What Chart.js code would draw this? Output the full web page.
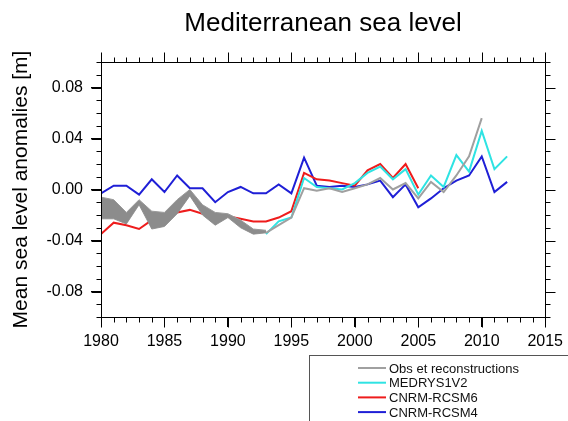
<!DOCTYPE html>
<html>
<head>
<meta charset="utf-8">
<script src="https://cdn.jsdelivr.net/npm/chart.js@4"></script>
<style>
  html, body { margin: 0; padding: 0; background: #fff; }
</style>
</head>
<body>
<canvas id="chart" width="568" height="421"></canvas>
<script>
const years = [1980, 1981, 1982, 1983, 1984, 1985, 1986, 1987, 1988, 1989, 1990,
  1991, 1992, 1993, 1994, 1995, 1996, 1997, 1998, 1999, 2000, 2001, 2002, 2003,
  2004, 2005, 2006, 2007, 2008, 2009, 2010, 2011, 2012];

// reconstructions envelope (1980-1993)
const bandUpper = [-0.006, -0.008, -0.018, -0.008, -0.017, -0.018, -0.008, 0.000, -0.012, -0.018, -0.019, -0.024, -0.031, -0.032];
const bandLower = [-0.023, -0.023, -0.027, -0.012, -0.031, -0.029, -0.019, -0.005, -0.020, -0.028, -0.022, -0.030, -0.035, -0.034];
// observations 1993-2010
const obs = [-0.034, -0.028, -0.022, 0.001, -0.001, 0.001, -0.002, 0.001, 0.004, 0.009, 0.000, 0.005, -0.007, 0.006, -0.002, 0.011, 0.026, 0.056];
// MEDRYS1V2 1993-2012
const medrys = [-0.035, -0.025, -0.022, 0.009, 0.002, 0.001, 0.000, 0.005, 0.013, 0.018, 0.008, 0.016, -0.004, 0.011, 0.002, 0.027, 0.014, 0.046, 0.016, 0.026];
// CNRM-RCSM6 1980-2005
const rcsm6 = [-0.035, -0.026, -0.028, -0.031, -0.024, -0.025, -0.018, -0.016, -0.019, -0.021, -0.021, -0.023, -0.025, -0.025, -0.022, -0.017, 0.013, 0.008, 0.007, 0.005, 0.003, 0.015, 0.020, 0.009, 0.020, 0.001];
// CNRM-RCSM4 1980-2012
const rcsm4 = [-0.003, 0.003, 0.003, -0.004, 0.008, -0.002, 0.011, 0.001, 0.001, -0.010, -0.002, 0.002, -0.003, -0.003, 0.004, -0.003, 0.025, 0.003, 0.002, 0.003, 0.002, 0.004, 0.007, -0.006, 0.004, -0.014, -0.007, 0.001, 0.007, 0.011, 0.026, -0.002, 0.006];

const xTicks = [1980, 1985, 1990, 1995, 2000, 2005, 2010, 2015];
const yTicks = [-0.08, -0.04, 0.00, 0.04, 0.08];

const FONT = "'Liberation Sans', Arial, Helvetica, sans-serif";

function pts(values, startYear) {
  const i0 = years.indexOf(startYear);
  return values.map((v, i) => ({ x: years[i0 + i], y: v }));
}

const line = (label, data, color) => ({
  label, data, borderColor: color, backgroundColor: color,
  borderWidth: 2, pointRadius: 0, tension: 0, fill: false,
});

// frame, minor ticks on every side, and the boxed legend at the bottom
const ncLook = {
  id: "ncLook",
  afterDraw(chart) {
    const { ctx, chartArea: a, scales: { x, y } } = chart;
    const L = Math.round(a.left) + 0.5, R = Math.round(a.right) + 0.5;
    const T = Math.round(a.top) + 0.5, B = Math.round(a.bottom) + 0.5;
    ctx.save();
    ctx.strokeStyle = "#000";
    ctx.lineWidth = 1;
    ctx.beginPath();
    ctx.rect(L, T, R - L, B - T);
    for (let yr = 1980; yr <= 2015; yr++) {
      const px = Math.round(x.getPixelForValue(yr)) + 0.5;
      const len = yr % 5 === 0 ? 10 : 5;
      ctx.moveTo(px, B); ctx.lineTo(px, B + len);
      ctx.moveTo(px, T); ctx.lineTo(px, T - len);
    }
    for (let k = -10; k <= 10; k++) {
      const py = Math.round(y.getPixelForValue(k / 100)) + 0.5;
      const len = k % 4 === 0 ? 10 : 5;
      ctx.moveTo(L, py); ctx.lineTo(L - len, py);
      ctx.moveTo(R, py); ctx.lineTo(R + len, py);
    }
    ctx.stroke();

    // legend
    ctx.strokeStyle = "#555";
    ctx.strokeRect(309.5, 355.5, 300, 100);
    ctx.font = "13px " + FONT;
    ctx.textBaseline = "middle";
    ctx.fillStyle = "#111";
    const items = chart.data.datasets.filter(d => !d.noLegend);
    items.forEach((d, i) => {
      const ry = 368 + i * 14.7;
      ctx.strokeStyle = d.borderColor;
      ctx.lineWidth = 2;
      ctx.beginPath();
      ctx.moveTo(358, ry); ctx.lineTo(386, ry);
      ctx.stroke();
      ctx.fillText(d.label, 389, ry + 1);
    });
    ctx.restore();
  },
};

new Chart(document.getElementById("chart"), {
  type: "line",
  data: {
    datasets: [
      { label: "band upper", data: pts(bandUpper, 1980), borderColor: "#9a9a9a", backgroundColor: "#8c8c8c",
        borderWidth: 1, pointRadius: 0, tension: 0, fill: "+1", noLegend: true },
      { label: "band lower", data: pts(bandLower, 1980), borderColor: "#9a9a9a", backgroundColor: "#8c8c8c",
        borderWidth: 1, pointRadius: 0, tension: 0, fill: false, noLegend: true },
      line("Obs et reconstructions", pts(obs, 1993), "#a0a0a0"),
      line("MEDRYS1V2", pts(medrys, 1993), "#2fe3e3"),
      line("CNRM-RCSM6", pts(rcsm6, 1980), "#ee1c1c"),
      line("CNRM-RCSM4", pts(rcsm4, 1980), "#1f1fd6"),
    ],
  },
  options: {
    responsive: false,
    animation: false,
    layout: { padding: { left: 0, right: 22, top: 0, bottom: 0 } },
    plugins: {
      legend: { display: false },
      tooltip: { enabled: false },
      title: {
        display: true, fullSize: false,
        text: "Mediterranean sea level",
        color: "#000",
        font: { family: FONT, size: 26, weight: "normal", lineHeight: 1.2 },
        padding: { top: 8, bottom: 22.8 },
      },
    },
    scales: {
      x: {
        type: "linear", min: 1980, max: 2015,
        afterBuildTicks: s => { s.ticks = xTicks.map(v => ({ value: v })); },
        afterFit: s => { s.height = 104; },
        grid: { drawOnChartArea: false, tickLength: 10, color: "#000" },
        border: { display: true, color: "#000" },
        ticks: { color: "#000", padding: 5, maxRotation: 0, font: { family: FONT, size: 16 },
          callback: v => String(v) },
      },
      y: {
        type: "linear", min: -0.1, max: 0.1,
        afterBuildTicks: s => { s.ticks = yTicks.map(v => ({ value: v })); },
        afterFit: s => { s.width = 101; },
        grid: { drawOnChartArea: false, tickLength: 10, color: "#000" },
        border: { display: true, color: "#000" },
        ticks: { color: "#000", padding: 8, font: { family: FONT, size: 16 },
          callback: v => v.toFixed(2) },
        title: {
          display: true, text: "Mean sea level anomalies [m]", color: "#000",
          font: { family: FONT, size: 21, lineHeight: 1.2 }, padding: { top: 9, bottom: 0 },
        },
      },
    },
  },
  plugins: [ncLook],
});
</script>
</body>
</html>
